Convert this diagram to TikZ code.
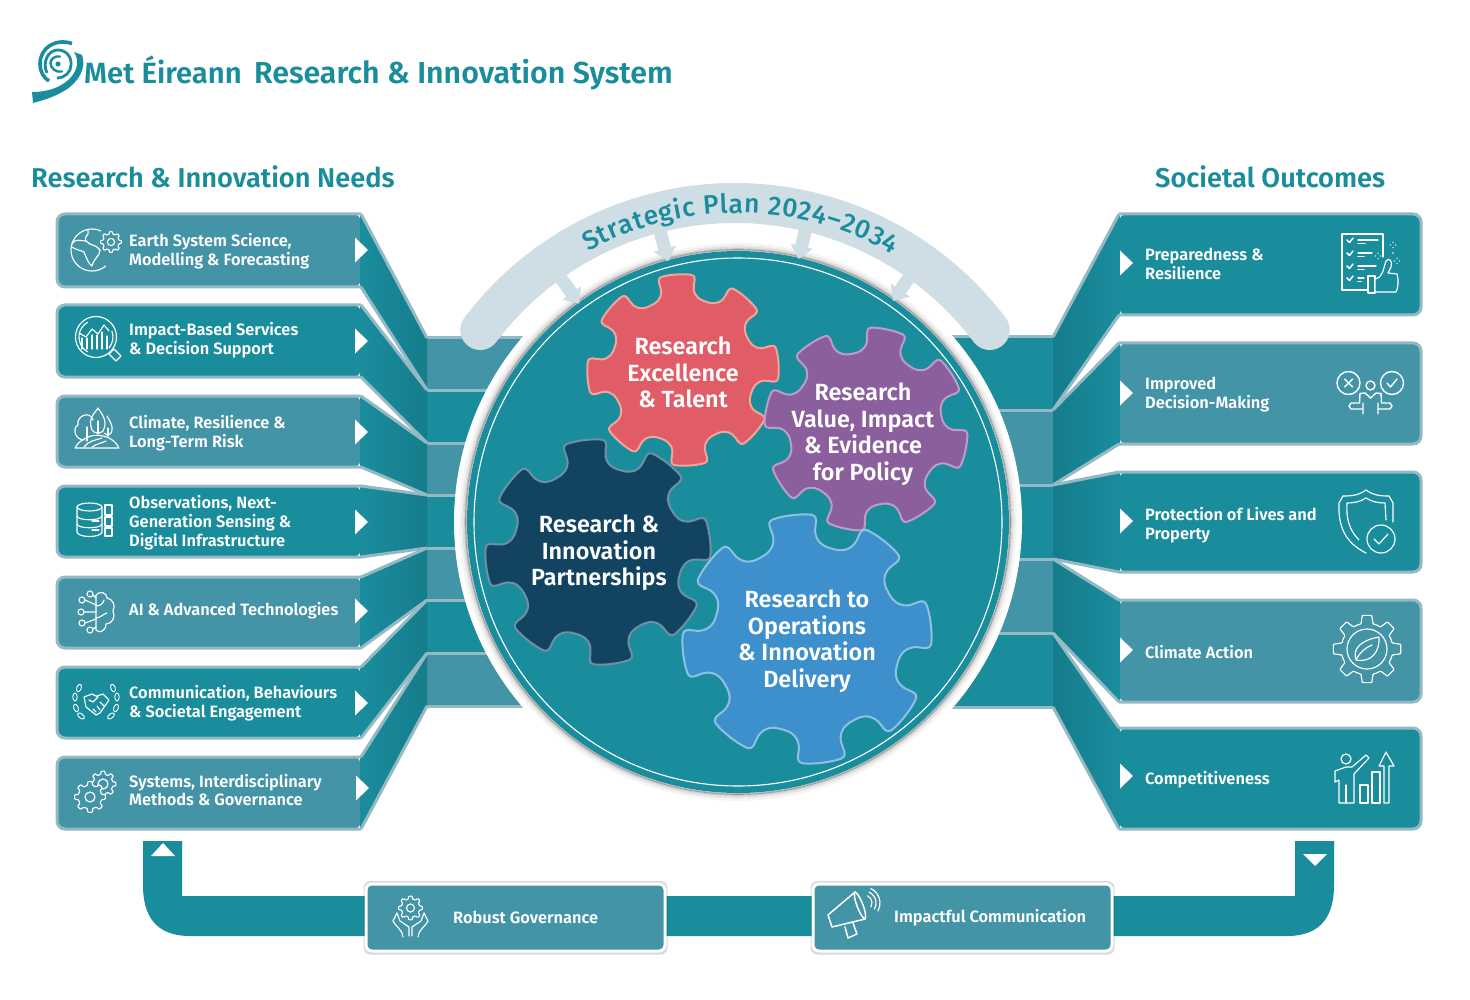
\documentclass[tikz,border=0pt]{standalone}
\usepackage{fontspec}
\setmainfont{Fira Sans}[BoldFont=Fira Sans SemiBold]
\newfontfamily\medfont{Fira Sans Medium}
\usetikzlibrary{decorations.text}
\definecolor{tealD}{HTML}{1A8D9D}
\definecolor{tealL}{HTML}{4394A6}
\definecolor{tealS}{HTML}{157C8B}
\definecolor{edgeC}{HTML}{93B9C5}
\definecolor{archC}{HTML}{CFDDE4}
\definecolor{redF}{HTML}{E05C66}\definecolor{redS}{HTML}{F0A49C}
\definecolor{purF}{HTML}{8B5E9E}\definecolor{purS}{HTML}{BD9CC9}
\definecolor{navF}{HTML}{124462}\definecolor{navS}{HTML}{6F8FA5}
\definecolor{bluF}{HTML}{3D90CC}\definecolor{bluS}{HTML}{8FC0E4}
\tikzset{
 ic/.style={draw=white,line width=1.15pt,line cap=round,line join=round},
 lab/.style={text=white,anchor=west,align=left,inner sep=0pt,font=\bfseries\fontsize{16.4}{18.8}\selectfont},
 head/.style={text=tealD,anchor=west,inner sep=0pt,font=\bfseries\fontsize{27.2}{30}\selectfont},
 gearlab/.style={text=white,align=center,inner sep=0pt,font=\bfseries\fontsize{23.4}{26.5}\selectfont},
 tri/.style={fill=white,draw=none}
}
% left bar: top bottom ytop ybot fill
\newcommand\leftbar[5]{%
 \fill[#5,rounded corners=8] (361,#1) -- (57,#1) -- (57,#2) -- (361,#2) -- cycle;
 \shade[left color=tealD,right color=tealS] (360,#1) -- (427,#3) -- (427,#4) -- (360,#2) -- cycle;
 \draw[edgeC,line width=3,rounded corners=8] (361,#1) -- (57,#1) -- (57,#2) -- (361,#2);
 \draw[edgeC,line width=3] (361,#1) -- (427,#3) (361,#2) -- (427,#4);
}
\newcommand\rightbar[5]{%
 \fill[#5,rounded corners=8] (1119,#1) -- (1421,#1) -- (1421,#2) -- (1119,#2) -- cycle;
 \shade[right color=tealD,left color=tealS] (1120,#1) -- (1053,#3) -- (1053,#4) -- (1120,#2) -- cycle;
 \draw[edgeC,line width=3,rounded corners=8] (1119,#1) -- (1421,#1) -- (1421,#2) -- (1119,#2);
 \draw[edgeC,line width=3] (1119,#1) -- (1053,#3) (1119,#2) -- (1053,#4);
}
\newcommand\ltri[2]{\fill[tri] (#1,#2-12.5) -- (#1+13,#2) -- (#1,#2+12.5) -- cycle;}
% big gear: cx cy R rot fill stroke
\newcommand\biggear[6]{%
 \begin{scope}[shift={(#1,#2)}]
 \filldraw[fill=#5,draw=#6,line width=2,line join=round] (#4-22.5:#3*.75)
 \foreach \a in {0,45,...,315} {
  .. controls (#4+\a-18:#3*.75) and (#4+\a-13:#3*.77) .. (#4+\a-11.5:#3*.85)
  .. controls (#4+\a-10.5:#3*.91) and (#4+\a-13:#3*.985) .. (#4+\a-9:#3*.995)
  .. controls (#4+\a-4:#3*1.005) and (#4+\a+4:#3*1.005) .. (#4+\a+9:#3*.995)
  .. controls (#4+\a+13:#3*.985) and (#4+\a+10.5:#3*.91) .. (#4+\a+11.5:#3*.85)
  .. controls (#4+\a+13:#3*.77) and (#4+\a+18:#3*.75) .. (#4+\a+22.5:#3*.75)
 } -- cycle;
 \end{scope}
}
% icon gear: cx cy R fillcolor
\newcommand\icgear[4]{%
 \begin{scope}[shift={(#1,#2)}]
 \path[ic,fill=#4,rounded corners=0.7pt] (-22.5:.76*#3)
 \foreach \a in {0,45,...,315} { -- (\a-13.5:.76*#3) -- (\a-8:#3) -- (\a+8:#3) -- (\a+13.5:.76*#3) -- (\a+22.5:.76*#3) } -- cycle;
 \end{scope}
}
\newcommand\sparkle[2]{\fill[white] (#1-2.6,#2) circle (.7) (#1+2.6,#2) circle (.7) (#1,#2-2.6) circle (.7) (#1,#2+2.6) circle (.7);}
\newcommand\arrowdown[1]{%
 \begin{scope}[shift={(738,522)},rotate=#1]
 \fill[archC] (-6.5,-305) -- (-6.5,-283) -- (-11.5,-283) -- (0,-270) -- (11.5,-283) -- (6.5,-283) -- (6.5,-305) -- cycle;
 \end{scope}
}
\begin{document}
\begin{tikzpicture}[x=1pt,y=-1pt]
\useasboundingbox (0,0) rectangle (1470,1000);
\fill[white] (0,0) rectangle (1470,1000);

% ---------- logo and titles
\begin{scope}[tealD]
 \fill (33,103) -- (32,92) .. controls (50,92) and (64,86) .. (72,76) .. controls (78,68) and (79,60) .. (74,52) -- (82,55) .. controls (87,68) and (78,83) .. (64,91) .. controls (54,97) and (44,100) .. (33,103) -- cycle;
 \draw[line width=3.6,line cap=butt] (72,43.5) .. controls (55,38) and (40,48) .. (40,64) .. controls (40,72) and (44,78) .. (49,81);
 \draw[line width=2.8,line cap=butt] (47,73) .. controls (42,62) and (48,50) .. (58,50) .. controls (66,50) and (72,57) .. (71,65) .. controls (71,72) and (65,78) .. (57,78);
 \draw[line width=2.4,line cap=round] (62,71.5) .. controls (56,73) and (50.5,68) .. (50.5,63) .. controls (50.5,59) and (55,55.5) .. (60,56.5);
 \fill (58,64) circle (2.6);
\end{scope}
\node[anchor=base west,inner sep=0pt,text=tealD,font=\bfseries\fontsize{29.3}{33}\selectfont] (brand) at (84,84) {Met Éireann};
\node[anchor=base west,inner sep=0pt,text=tealD,font=\bfseries\fontsize{30.3}{33}\selectfont] (title) at (254,84) {Research \& Innovation System};
\node[head] (hneeds) at (31,176.5) {Research \& Innovation Needs};
\node[head] (houts) at (1155,176.5) {Societal Outcomes};

% ---------- stubs
\fill[tealL] (427,338) rectangle (620,390);
\fill[tealD] (427,390) rectangle (620,443);
\fill[tealL] (427,443) rectangle (620,495);
\fill[tealD] (427,495) rectangle (620,548);
\fill[tealL] (427,548) rectangle (620,600);
\fill[tealD] (427,600) rectangle (620,653);
\fill[tealL] (427,653) rectangle (620,706);
\draw[edgeC,line width=3] (427,338)--(620,338) (427,390)--(620,390) (427,443)--(620,443) (427,495)--(620,495) (427,548)--(620,548) (427,600)--(620,600) (427,653)--(620,653) (427,706)--(620,706);
\fill[tealD] (860,337) rectangle (1053,410);
\fill[tealL] (860,410) rectangle (1053,485);
\fill[tealD] (860,485) rectangle (1053,559);
\fill[tealL] (860,559) rectangle (1053,633);
\fill[tealD] (860,633) rectangle (1053,707);
\draw[edgeC,line width=3] (860,337)--(1053,337) (860,410)--(1053,410) (860,485)--(1053,485) (860,559)--(1053,559) (860,633)--(1053,633) (860,707)--(1053,707);

% ---------- bars
\leftbar{214}{287}{338}{390}{tealL}
\leftbar{305}{377}{390}{443}{tealD}
\leftbar{396}{467}{443}{495}{tealL}
\leftbar{486}{557}{495}{548}{tealD}
\leftbar{577}{648}{548}{600}{tealL}
\leftbar{667}{738}{600}{653}{tealD}
\leftbar{757}{829}{653}{706}{tealL}
\rightbar{214}{315}{337}{410}{tealD}
\rightbar{343}{444}{410}{485}{tealL}
\rightbar{472}{572}{485}{559}{tealD}
\rightbar{600}{702}{559}{633}{tealL}
\rightbar{728}{829}{633}{707}{tealD}
\foreach \y in {250,341,432,522,611,703} {\ltri{355}{\y}}
\ltri{356}{788}
\foreach \y in {263,393,521,650,776} {\ltri{1120}{\y}}

% ---------- bar labels
\node[lab] (n1) at (129,251.5) {Earth System Science,\\Modelling \& Forecasting};
\node[lab] (n2) at (129,340) {Impact-Based Services\\\& Decision Support};
\node[lab] (n3) at (129,433.5) {Climate, Resilience \&\\Long-Term Risk};
\node[lab] (n4) at (129,523) {Observations, Next-\\Generation Sensing \&\\Digital Infrastructure};
\node[lab] (n5) at (129,611) {AI \& Advanced Technologies};
\node[lab] (n6) at (129,703.5) {Communication, Behaviours\\\& Societal Engagement};
\node[lab] (n7) at (129,790) {Systems, Interdisciplinary\\Methods \& Governance};
\node[lab] (o1) at (1145,264) {Preparedness \&\\Resilience};
\node[lab] (o2) at (1145,394.5) {Improved\\Decision-Making};
\node[lab] (o3) at (1145,525) {Protection of Lives and\\Property};
\node[lab] (o4) at (1145,652) {Climate Action};
\node[lab] (o5) at (1145,780) {Competitiveness};

% ---------- disk
\fill[white] (738,522) circle (284);
\foreach \r/\o in {278/.06,276/.10,274.5/.16,273/.28,272/.4} {\draw[black!70,opacity=\o,line width=1.6] (738,522) circle (\r);}
\fill[tealD] (738,522) circle (271);
\draw[white,line width=1.1] (738,522) circle (264);

% ---------- arch
\draw[archC,line width=40,line cap=round] ([shift={(217:319)}]735,522) arc (217:323:319);
\arrowdown{36}\arrowdown{15}\arrowdown{-13}\arrowdown{-35}
\path[decorate,decoration={text along path,text align={fit to path},text color=tealD,
  text={|\medfont\fontsize{26.5}{30}\selectfont|Strategic Plan 2024–2034}}]
  ([shift={(241:309)}]738,522) arc (241:300:309);

% ---------- gears
\biggear{683}{370}{96}{-4}{redF}{redS}
\biggear{866}{429}{102}{12}{purF}{purS}
\biggear{598}{552}{113}{-7}{navF}{navS}
\biggear{807}{639}{125}{-7}{bluF}{bluS}
\node[gearlab] (g1) at (683,372.5) {Research\\Excellence\\\& Talent};
\node[gearlab] (g2) at (863,434) {Research\\Value, Impact\\\& Evidence\\for Policy};
\node[gearlab] (g3) at (599,553) {Research \&\\Innovation\\Partnerships};
\node[gearlab] (g4) at (807,641) {Research to\\Operations\\\& Innovation\\Delivery};

% ---------- bottom loop
\fill[tealD] (143,841) -- (143,885) .. controls (143,915) and (155,936) .. (190,936) -- (1287,936) .. controls (1322,936) and (1334,915) .. (1334,885) -- (1334,841) -- (1295,841) -- (1295,896) -- (182,896) -- (182,841) -- cycle;
\fill[white] (151,856) -- (175,856) -- (163,843) -- cycle;
\fill[white] (1303,854) -- (1327,854) -- (1315,866) -- cycle;
\foreach \x in {365,812} {
 \fill[black,opacity=.15,rounded corners=7] (\x-1.5,881) rectangle (\x+302.5,954.5);
 \filldraw[fill=tealL,draw=white,line width=3,rounded corners=6] (\x+1,884) rectangle (\x+300,951);
}
\node[lab] (b1) at (453,917.5) {Robust Governance};
\node[lab] (b2) at (894,917.5) {Impactful Communication};

% ---------- icons left
% earth + gear
\draw[ic] ([shift={(295:21)}]92,250) arc (295:50:21);
\draw[ic] (88,230) .. controls (90,236) and (83,236) .. (86,241) .. controls (80,241) and (76,238) .. (72,244);
\draw[ic] (86,241) .. controls (90,246) and (96,244) .. (100,250) .. controls (100,256) and (94,258) .. (92,266) .. controls (88,264) and (86,256) .. (84,252) .. controls (80,250) and (76,250) .. (72,247);
\icgear{111}{242}{10.5}{tealL}
\draw[ic] (111,242) circle (3.6);
% magnifier
\draw[ic] (96,337) circle (20.5);
\draw[ic] ([shift={(120:17)}]96,337) arc (120:240:17);
\draw[ic] ([shift={(40:17)}]96,337) arc (40:-20:17);
\foreach \x/\a in {82/338,87/338,92/335,97/335,102/332,107/336} {\draw[ic] (\x,\a) -- (\x,349);}
\draw[ic] (79,333) -- (86,337) -- (92,329) -- (98,334) -- (104,325) -- (109,331);
\draw[ic] (109,354) -- (114,349) -- (121,356) -- (116,361) -- cycle;
% trees
\draw[ic] (87,441) -- (87,427) (98,434) -- (98,421) (108,436) -- (108,428);
\draw[ic] (84,440) .. controls (75,440) and (72,428) .. (78,425) .. controls (76,416) and (90,410) .. (93,420);
\draw[ic] (92,430) .. controls (87,418) and (96,412) .. (98,408) .. controls (100,412) and (109,420) .. (103,431) .. controls (100,434) and (95,434) .. (92,430);
\draw[ic] (104,433) .. controls (107,436) and (112,435) .. (112,430) .. controls (113,425) and (109,420) .. (107,416);
\draw[ic] (75,448) -- (119,448) .. controls (114,436) and (96,432) .. (86,438) .. controls (80,441) and (77,444) .. (75,448);
\draw[ic] (84,447) .. controls (88,441) and (96,440) .. (102,438);
\draw[ic] (92,447) .. controls (96,444) and (102,443) .. (106,441);
% database
\draw[ic] (89.5,507) ellipse (12.5 and 4);
\draw[ic] (77,507) -- (77,532) .. controls (78,538) and (101,538) .. (102,532) -- (102,507);
\draw[ic] (77,516) .. controls (78,521) and (101,521) .. (102,516);
\draw[ic] (77,524) .. controls (78,529) and (101,529) .. (102,524);
\draw[ic] (105,505) rectangle (112,515) (105,517) rectangle (112,526) (105,528) rectangle (112,536);
\draw[ic] (92,521) -- (99,521) (92,530) -- (99,530);
% brain
\draw[ic] (96,595) -- (96,630) (96,595) .. controls (100,590) and (107,593) .. (107,598) .. controls (113,599) and (116,606) .. (113,611) .. controls (116,617) and (112,624) .. (106,624) .. controls (106,631) and (99,634) .. (96,630);
\draw[ic] (96,606) .. controls (100,606) and (103,604) .. (104,600) (96,618) .. controls (100,618) and (103,614) .. (107,613);
\foreach \x/\y in {90/594,82/600,81/612,82/623,90/630} {\draw[ic] (\x,\y) circle (3);}
\draw[ic] (85,600) -- (96,605) (93,595) -- (96,598) (84,612) -- (96,612) (85,623) -- (96,619) (93,629) -- (96,627);
% handshake and laurels
\foreach \x/\y/\r in {79/688/70,75/697/90,76/708/110,81/716/140,113/688/110,117/697/90,116/708/70,111/716/40} {
 \draw[ic,line width=.9pt,rotate around={\r:(\x,\y)}] (\x,\y) ellipse (4 and 2.2);}
\draw[ic] (84,697) -- (92,694) -- (98,697) -- (93,702) -- (89,700) (97,696) -- (103,694) -- (109,700) -- (100,713) -- (96,715) -- (86,707) -- (84,697);
\draw[ic] (100,702) -- (104,706) (97,706) -- (100,710) (93,709) -- (96,712);
% two gears
\icgear{103}{784}{13}{tealL}
\draw[ic] (103,784) circle (5);
\icgear{90}{797}{15.5}{tealL}
\draw[ic] (90,797) circle (5);

% ---------- icons right
% checklist
\draw[ic] (1383,257) -- (1383,234) -- (1342,234) -- (1342,290) -- (1368,290);
\foreach \y/\w/\v in {240/1378/1365,253/1372/1364,266/1376/1364,278/1364/1361} {
 \draw[ic,line width=1.5pt] (1347,\y) -- (1349.5,\y+2.5) -- (1353,\y-2);
 \draw[ic] (1358,\y) -- (\w,\y) (1358,\y+3.5) -- (\v,\y+3.5);}
\draw[ic,fill=tealD] (1368,276) rectangle (1375,293);
\draw[ic,fill=tealD] (1375,279) .. controls (1384,277) and (1383,268) .. (1386,261) .. controls (1389,257) and (1393,261) .. (1391,267) -- (1388,273) -- (1397,274) .. controls (1399,280) and (1398,288) .. (1396,292) -- (1375,292) -- cycle;
\sparkle{1393}{245}\sparkle{1378}{256}\sparkle{1397}{261}
\fill[white] (1393,253) circle (.9);
% decision
\draw[ic,line width=1.4pt] (1348.5,383) circle (11.5);
\draw[ic,line width=1.4pt] (1344.5,379) -- (1352.5,387) (1352.5,379) -- (1344.5,387);
\draw[ic,line width=1.4pt] (1392,383) circle (11.5);
\draw[ic,line width=1.4pt] (1387,383) -- (1390.5,387) -- (1397,379);
\draw[ic,line width=1.4pt] (1370.5,385.5) circle (4.5);
\draw[ic,line width=1.4pt] (1370.5,398) -- (1365,393) -- (1360,393.5) -- (1359.5,403) -- (1351,403) -- (1349,406) -- (1351,409) -- (1363,409) (1363,403) -- (1363,414);
\draw[ic,line width=1.4pt] (1370.5,398) -- (1376,393) -- (1381,393.5) -- (1381.5,403) -- (1390,403) -- (1392,406) -- (1390,409) -- (1378,409) (1378,403) -- (1378,414);
% shield
\draw[ic] (1366,490) .. controls (1358,496) and (1349,496) .. (1343,496) -- (1339,503) .. controls (1338,525) and (1344,542) .. (1366,553);
\draw[ic] (1366,490) .. controls (1374,496) and (1383,496) .. (1389,496) -- (1393,503) -- (1393,522);
\draw[ic] (1366,498) .. controls (1360,502) and (1353,503) .. (1347,503) .. controls (1346,518) and (1349,530) .. (1359,540);
\draw[ic] (1366,498) .. controls (1372,502) and (1379,503) .. (1385,503) -- (1386,520);
\draw[ic] (1381,539) circle (14);
\draw[ic] (1374,539) -- (1379,544) -- (1388,534);
% climate gear
\icgear{1367}{649}{34}{tealL}
\draw[ic] (1367,649) circle (20);
\draw[ic] (1356,660) .. controls (1352,648) and (1362,640) .. (1379,637) .. controls (1380,652) and (1371,663) .. (1356,660) .. controls (1360,652) and (1365,648) .. (1372,645);
% competitiveness
\draw[ic] (1346,759) circle (5);
\draw[ic] (1339,803) -- (1339,780) -- (1335,782) -- (1335,771) -- (1346,767) -- (1352,767) -- (1366,755) -- (1369,758) -- (1354,774) -- (1354,803) -- cycle;
\draw[ic] (1346,785) -- (1346,803);
\draw[ic] (1360,785) rectangle (1368,803);
\draw[ic] (1372,772) rectangle (1380,803);
\draw[ic] (1384,803) -- (1384,766) -- (1379,766) -- (1386,752) -- (1394,766) -- (1389,766) -- (1389,803) -- cycle;

% ---------- bottom icons
\icgear{410.5}{908}{12}{tealL}
\draw[ic] (410.5,908) circle (4);
\draw[ic] (397,913) -- (393,921) .. controls (395,926) and (403,930) .. (403,937) (397,913) -- (400,921) -- (409,927) -- (409,936);
\draw[ic] (424,913) -- (428,921) .. controls (426,926) and (418,930) .. (418,937) (424,913) -- (421,921) -- (412,927) -- (412,936);
% megaphone
\draw[ic,line width=1.5pt] (855,892) -- (828,915) -- (832,927) -- (865,919);
\draw[ic,line width=1.5pt] (855,892) .. controls (859,893) and (868,914) .. (865,919) .. controls (861,918) and (852,897) .. (855,892) -- cycle;
\draw[ic,line width=1.5pt] (845,927) -- (848,938) -- (857,934) -- (853,923);
\draw[ic] ([shift={(-65:8)}]864,903) arc (-65:30:8);
\draw[ic] ([shift={(-65:12)}]864,903) arc (-65:30:12);
\draw[ic] ([shift={(-65:16)}]864,903) arc (-65:30:16);
\end{tikzpicture}
\end{document}
